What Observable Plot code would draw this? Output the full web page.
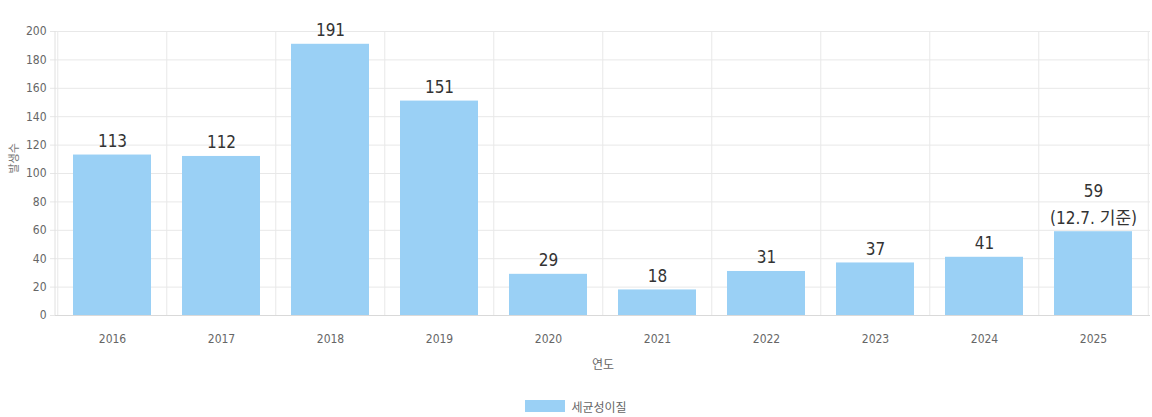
<!DOCTYPE html>
<html>
<head>
<meta charset="utf-8">
<script src="https://cdn.jsdelivr.net/npm/d3@7"></script>
<script src="https://cdn.jsdelivr.net/npm/@observablehq/plot@0.6"></script>
<style>
  body { margin: 0; background: #fff; font-family: "DejaVu Sans", "Noto Sans CJK KR", sans-serif; font-stretch: condensed; }
  #legend { display: flex; justify-content: center; align-items: center; gap: 6px; height: 42px; font-size: 12px; color: #666; font-family: "Noto Sans CJK KR", sans-serif; }
  #legend .sw { width: 40px; height: 12px; background: #9ad0f5; border: 1px solid #9ad0f5; box-sizing: border-box; }
  svg text { font-stretch: condensed; }
</style>
</head>
<body>
<div id="chart"></div>
<div id="legend"><span class="sw"></span><span>세균성이질</span></div>
<script>
const years = ["2016","2017","2018","2019","2020","2021","2022","2023","2024","2025"];
const counts = [113, 112, 191, 151, 29, 18, 31, 37, 41, 59];
const notes = ["", "", "", "", "", "", "", "", "", "(12.7. 기준)"];
const yTicks = [0, 20, 40, 60, 80, 100, 120, 140, 160, 180, 200];
const seriesName = "세균성이질";
const xTitle = "연도";
const yTitle = "발생수";

const data = years.map((y, i) => ({year: y, count: counts[i], note: notes[i]}));

const W = 1152, ML = 55, MR = 2;
const step = (W - ML - MR) / years.length;
const FONT = '"DejaVu Sans", "Noto Sans CJK KR", sans-serif';

const plot = Plot.plot({
  width: W,
  height: 385,
  marginLeft: ML,
  marginRight: MR,
  marginTop: 31,
  marginBottom: 70,
  style: {fontFamily: FONT, fontSize: "12px", color: "#666"},
  x: {domain: years, paddingInner: 0.28, paddingOuter: 0.14, label: null},
  y: {domain: [0, 200], label: null},
  marks: [
    Plot.ruleY(yTicks, {stroke: "#e8e8e8", strokeWidth: 1}),
    Plot.gridX(years, {stroke: "#e8e8e8", strokeOpacity: 1, dx: -step / 2}),
    Plot.gridX([years[years.length - 1]], {stroke: "#e8e8e8", strokeOpacity: 1, dx: step / 2}),
    Plot.barY(data, {x: "year", y: "count", fill: "#9ad0f5"}),
    Plot.ruleY([0], {stroke: "#d9d9d9"}),
    Plot.axisY(yTicks, {tickSize: 5, tickPadding: 4, stroke: "#e6e6e6", fill: "#666", fontSize: 12, label: null}),
    Plot.axisX(years, {tickSize: 0, tickPadding: 19, fill: "#666", fontSize: 12, label: null}),
    Plot.text([xTitle], {frameAnchor: "bottom", dy: 53, fill: "#666", fontSize: 12, fontFamily: "Noto Sans CJK KR"}),
    Plot.text([yTitle], {frameAnchor: "left", dx: -41, rotate: -90, fill: "#777", fontSize: 11, fontFamily: "Noto Sans CJK KR"}),
    Plot.text(data, {x: "year", y: "count", text: d => d.note ? d.count + "\n" + d.note : String(d.count), lineAnchor: "bottom", dy: -8, fill: "#333", fontSize: 17, lineHeight: 1.6})
  ]
});
document.getElementById("chart").append(plot);
const svg = d3.select(plot);
svg.append("line").attr("x1", ML).attr("x2", ML).attr("y1", 31).attr("y2", 315).attr("stroke", "#e0e0e0");
</script>
</body>
</html>
